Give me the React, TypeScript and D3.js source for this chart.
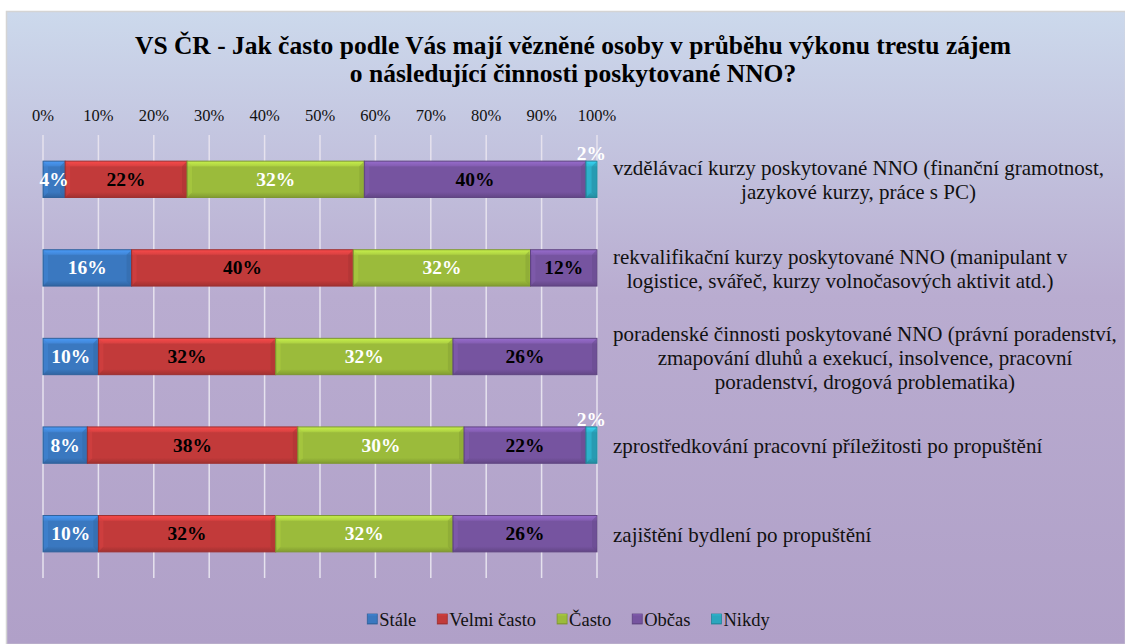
import React, { useMemo } from "react";
import * as d3 from "d3";

const titleLines = [
  "VS ČR - Jak často podle Vás mají vězněné osoby v průběhu výkonu trestu zájem",
  "o následující činnosti poskytované NNO?",
];

const categories: string[][] = [
  ["vzdělávací kurzy poskytované NNO (finanční gramotnost,", "jazykové kurzy, práce s PC)"],
  ["rekvalifikační kurzy poskytované NNO (manipulant v", "logistice, svářeč, kurzy volnočasových aktivit atd.)"],
  ["poradenské činnosti poskytované NNO (právní poradenství,", "zmapování dluhů a exekucí, insolvence, pracovní", "poradenství, drogová problematika)"],
  ["zprostředkování pracovní příležitosti po propuštění"],
  ["zajištění bydlení po propuštění"],
];

const seriesNames = ["Stále", "Velmi často", "Často", "Občas", "Nikdy"];
const stale = [4, 16, 10, 8, 10];
const velmiCasto = [22, 40, 32, 38, 32];
const casto = [32, 32, 32, 30, 32];
const obcas = [40, 12, 26, 22, 26];
const nikdy = [2, 0, 0, 2, 0];

const tickValues = [0, 10, 20, 30, 40, 50, 60, 70, 80, 90, 100];

const seriesColors = ["#3a78c0", "#c23a3a", "#9bbb3b", "#7654a0", "#2aa6be"];
const labelColors = ["#ffffff", "#000000", "#ffffff", "#000000", "#ffffff"];

const W = 1125;
const H = 644;
const SERIF = '"Liberation Serif", "Times New Roman", "DejaVu Serif", serif';

export default function App() {
  const seriesData = [stale, velmiCasto, casto, obcas, nikdy];
  const rows = categories.map((_, i) => {
    const obj: any = { idx: i };
    seriesNames.forEach((s, k) => (obj[s] = seriesData[k][i]));
    return obj;
  });
  const stacked = d3.stack<any>().keys(seriesNames)(rows);

  const x = d3.scaleLinear().domain([0, 100]).range([43, 597]);
  const y = d3
    .scaleBand<number>()
    .domain(categories.map((_, i) => i))
    .range([135, 578])
    .paddingInner(0.59)
    .paddingOuter(0.295);

  const measure = useMemo(() => {
    const c = document.createElement("canvas").getContext("2d")!;
    return (t: string, size: number) => {
      c.font = `${size}px ${SERIF}`;
      return c.measureText(t).width;
    };
  }, []);

  const labelLeft = 613;
  const lineH = 24;
  const catSize = 21;
  const legSize = 18.5;

  const lighten = (c: string, k: number) => d3.color(c)!.brighter(k).formatHex();
  const darken = (c: string, k: number) => d3.color(c)!.darker(k).formatHex();

  const tStyle = { fontFamily: SERIF };

  return (
    <svg
      width={W}
      height={H}
      style={{ position: "absolute", left: 0, top: 0, display: "block", fontFamily: SERIF }}
    >
      <defs>
        <linearGradient id="bg" x1="0" y1="0" x2="0" y2="1">
          <stop offset="0" stopColor="#ccd9ec" />
          <stop offset="0.45" stopColor="#b9acd0" />
          <stop offset="1" stopColor="#b0a0c8" />
        </linearGradient>
        {seriesColors.map((c, k) => (
          <linearGradient key={k} id={`g${k}`} x1="0" y1="0" x2="0" y2="1">
            <stop offset="0" stopColor={lighten(c, 0.7)} />
            <stop offset="0.12" stopColor={lighten(c, 0.35)} />
            <stop offset="0.16" stopColor={c} />
            <stop offset="0.85" stopColor={c} />
            <stop offset="1" stopColor={darken(c, 0.5)} />
          </linearGradient>
        ))}
      </defs>
      <rect x={0} y={0} width={W} height={H} fill="#ffffff" />
      <rect x={6.5} y={11.5} width={W - 6} height={H - 11} fill="url(#bg)" stroke="#d4d4d4" strokeWidth={1.5} />

      {titleLines.map((t, i) => (
        <text key={i} x={573} y={54 + i * 28} textAnchor="middle" fontSize={25.5} fontWeight="bold" fill="#000" style={tStyle}>
          {t}
        </text>
      ))}

      {tickValues.map((v) => (
        <g key={v}>
          <line x1={x(v)} x2={x(v)} y1={135} y2={578} stroke="#e6e2ee" strokeWidth={1.5} />
          <text x={x(v)} y={121} textAnchor="middle" fontSize={16.5} fill="#111" style={tStyle}>
            {v + "%"}
          </text>
        </g>
      ))}

      {stacked.map((layer, k) => (
        <g key={k}>
          {layer.map((d, i) => {
            const v = d[1] - d[0];
            if (v <= 0) return null;
            const x0 = x(d[0]);
            const x1 = x(d[1]);
            const yy = y(i)!;
            const bh = y.bandwidth();
            return (
              <g key={i}>
                <rect x={x0} y={yy} width={x1 - x0} height={bh} fill={`url(#g${k})`} stroke={darken(seriesColors[k], 0.6)} strokeWidth={1} />
                <path d={`M${x0 + 1},${yy + 1} L${x0 + 5},${yy + 5} L${x0 + 5},${yy + bh - 5} L${x0 + 1},${yy + bh - 1} Z`} fill={lighten(seriesColors[k], 0.3)} opacity={0.5} />
                <path d={`M${x1 - 1},${yy + 1} L${x1 - 5},${yy + 5} L${x1 - 5},${yy + bh - 5} L${x1 - 1},${yy + bh - 1} Z`} fill={darken(seriesColors[k], 0.4)} opacity={0.5} />
              </g>
            );
          })}
        </g>
      ))}

      {stacked.map((layer, k) => (
        <g key={"l" + k}>
          {layer.map((d, i) => {
            const v = d[1] - d[0];
            if (v <= 0) return null;
            const cx = (x(d[0]) + x(d[1])) / 2;
            const yy = y(i)!;
            const small = v <= 2;
            return (
              <text
                key={i}
                x={cx}
                y={small ? yy - 1 : yy + y.bandwidth() / 2 + 6.5}
                textAnchor="middle"
                fontSize={19.5}
                fontWeight="bold"
                fill={labelColors[k]}
                style={tStyle}
              >
                {v + "%"}
              </text>
            );
          })}
        </g>
      ))}

      {categories.map((lines, i) => {
        const maxW = d3.max(lines, (l) => measure(l, catSize)) || 0;
        const cx = labelLeft + maxW / 2;
        const cy = y(i)! + y.bandwidth() / 2 + 2;
        const top = cy - ((lines.length - 1) * lineH) / 2;
        return (
          <g key={i}>
            {lines.map((l, j) => (
              <text key={j} x={cx} y={top + j * lineH + 6} textAnchor="middle" fontSize={catSize} fill="#111" style={tStyle}>
                {l}
              </text>
            ))}
          </g>
        );
      })}

      {(() => {
        const widths = seriesNames.map((s) => measure(s, legSize));
        const gap = 20;
        const sq = 10;
        const itemW = widths.map((w) => sq + 3 + w);
        const total = d3.sum(itemW) + gap * (seriesNames.length - 1);
        let cur = 569 - total / 2;
        return seriesNames.map((s, k) => {
          const x0 = cur;
          cur += itemW[k] + gap;
          return (
            <g key={s}>
              <rect x={x0} y={614} width={sq} height={sq} fill={`url(#g${k})`} stroke={darken(seriesColors[k], 0.6)} strokeWidth={0.8} />
              <text x={x0 + sq + 2} y={626} fontSize={legSize} fill="#111" style={tStyle}>
                {s}
              </text>
            </g>
          );
        });
      })()}
    </svg>
  );
}
